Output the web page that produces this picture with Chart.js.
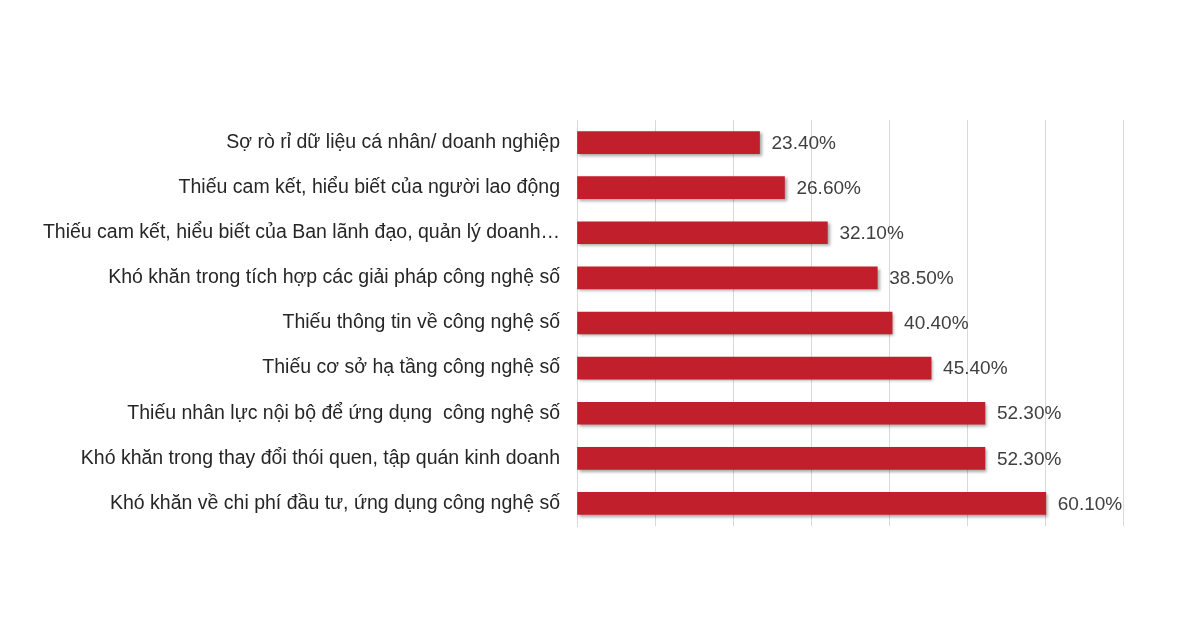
<!DOCTYPE html>
<html>
<head>
<meta charset="utf-8">
<script src="https://cdn.jsdelivr.net/npm/chart.js@4"></script>
<style>
  html, body { margin: 0; padding: 0; background: #fff; }
  #wrap { width: 1200px; height: 630px; }
</style>
</head>
<body>
<div id="wrap"><canvas id="barriersChart" width="1200" height="630"></canvas></div>
<script>
// categories, top to bottom
const categories = [
    'Sợ rò rỉ dữ liệu cá nhân/ doanh nghiệp',
    'Thiếu cam kết, hiểu biết của người lao động',
    'Thiếu cam kết, hiểu biết của Ban lãnh đạo, quản lý doanh…',
    'Khó khăn trong tích hợp các giải pháp công nghệ số',
    'Thiếu thông tin về công nghệ số',
    'Thiếu cơ sở hạ tầng công nghệ số',
    'Thiếu nhân lực nội bộ để ứng dụng  công nghệ số',
    'Khó khăn trong thay đổi thói quen, tập quán kinh doanh',
    'Khó khăn về chi phí đầu tư, ứng dụng công nghệ số'
];
const shares = [23.4, 26.6, 32.1, 38.5, 40.4, 45.4, 52.3, 52.3, 60.1];
const axisMax = 70;

const fontFamily = '"Liberation Sans", Arial, sans-serif';

// bar shadow
const shadowPlugin = {
    id: 'barShadow',
    beforeDatasetsDraw(chart) {
        const c = chart.ctx;
        c.save();
        c.shadowColor = 'rgba(0,0,0,0.35)';
        c.shadowBlur = 3;
        c.shadowOffsetX = 2;
        c.shadowOffsetY = 2;
    },
    afterDatasetsDraw(chart) {
        chart.ctx.restore();
    }
};

// value labels at bar ends
const valueLabels = {
    id: 'valueLabels',
    afterDraw(chart) {
        const c = chart.ctx;
        const meta = chart.getDatasetMeta(0);
        c.save();
        c.font = '19px ' + fontFamily;
        c.fillStyle = '#404040';
        c.textAlign = 'left';
        c.textBaseline = 'middle';
        meta.data.forEach(function(bar, i) {
            c.fillText(shares[i].toFixed(2) + '%', bar.x + 12, bar.y + 1);
        });
        c.restore();
    }
};

new Chart(document.getElementById('barriersChart'), {
    type: 'bar',
    data: {
        labels: categories,
        datasets: [{
            data: shares,
            backgroundColor: '#C01F2B',
            borderWidth: 0,
            barThickness: 22
        }]
    },
    options: {
        indexAxis: 'y',
        responsive: false,
        animation: false,
        layout: { padding: { top: 120, right: 77, bottom: 104, left: 0 } },
        plugins: {
            legend: { display: false },
            tooltip: { enabled: false }
        },
        scales: {
            x: {
                min: 0,
                max: axisMax,
                ticks: { display: false, stepSize: 10 },
                grid: { color: '#d9d9d9', drawTicks: false, lineWidth: 1 },
                border: { display: false },
                afterFit: function(scale) { scale.height = 0; }
            },
            y: {
                ticks: {
                    color: '#262626',
                    padding: 17,
                    autoSkip: false,
                    font: { family: fontFamily, size: 19.5 }
                },
                grid: { display: false, drawTicks: false },
                border: { display: true, color: '#d9d9d9' },
                afterFit: function(scale) { scale.width = 577; }
            }
        }
    },
    plugins: [shadowPlugin, valueLabels]
});
</script>
</body>
</html>
